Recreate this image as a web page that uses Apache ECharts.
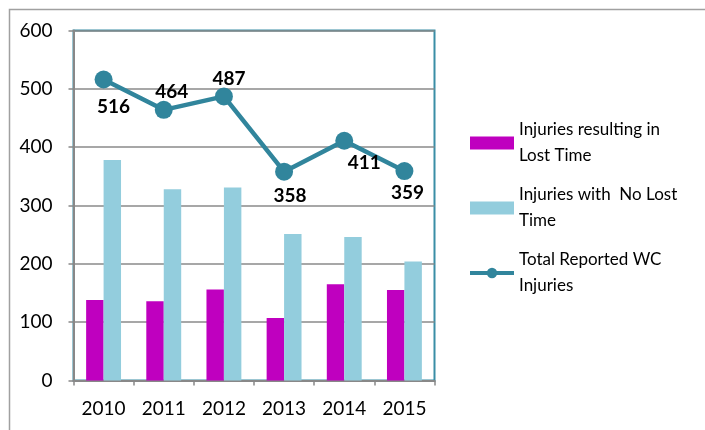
<!DOCTYPE html>
<html>
<head>
<meta charset="utf-8">
<script src="https://cdn.jsdelivr.net/npm/echarts@6/dist/echarts.min.js"></script>
<style>html,body{margin:0;padding:0;background:#fff}#c{width:705px;height:430px}</style>
</head>
<body>
<div id="c"></div>
<script>
const years = ['2010', '2011', '2012', '2013', '2014', '2015'];
const lostTime = [138, 136, 156, 107, 165, 155];
const noLostTime = [378, 328, 331, 251, 246, 204];
const totalReported = [516, 464, 487, 358, 411, 359];
const labelOffsets = [[10, 27], [8, -18], [5, -18], [6, 24], [20, 22], [3, 22]];
const seriesNames = ['Injuries resulting in Lost Time', 'Injuries with No Lost Time', 'Total Reported WC Injuries'];
const legendText = {
  'Injuries resulting in Lost Time': 'Injuries resulting in\nLost Time',
  'Injuries with No Lost Time': 'Injuries with  No Lost\nTime',
  'Total Reported WC Injuries': 'Total Reported WC\nInjuries'
};
const FONT = 'Lato';
const chart = echarts.init(document.getElementById('c'), null, {renderer: 'canvas'});
chart.setOption({
  animation: false,
  textStyle: {fontFamily: FONT},
  graphic: [{
    type: 'rect', left: 7, top: 7, shape: {x: 0, y: 0, width: 800, height: 500},
    style: {fill: 'none', stroke: '#a0a0a0', lineWidth: 1.5}, silent: true
  }],
  grid: {left: 73.5, right: 270.5, top: 30.5, bottom: 49.5, show: true, borderColor: '#3a8ea6', borderWidth: 2, backgroundColor: 'transparent'},
  legend: {
    orient: 'vertical', left: 468, top: 104, padding: 0, itemGap: -13,
    itemWidth: 44, itemHeight: 13,
    data: [
      {name: seriesNames[0], icon: 'rect'},
      {name: seriesNames[1], icon: 'rect'},
      {name: seriesNames[2], lineStyle: {width: 4}}
    ],
    formatter: n => legendText[n],
    textStyle: {fontFamily: FONT, fontSize: 17, color: '#000', lineHeight: 26, padding: [26, 0, 0, 0]}
  },
  xAxis: {
    type: 'category', data: years,
    axisLine: {lineStyle: {color: '#888', width: 2}},
    axisTick: {show: true, length: 5, lineStyle: {color: '#888', width: 1.5}},
    axisLabel: {fontFamily: FONT, fontSize: 19, color: '#000', margin: 19}
  },
  yAxis: {
    type: 'value', min: 0, max: 600, interval: 100,
    axisLine: {show: true, lineStyle: {color: '#888', width: 2}},
    axisTick: {show: true, length: 5, lineStyle: {color: '#888', width: 1.5}},
    axisLabel: {fontFamily: FONT, fontSize: 19, color: '#000', margin: 21},
    splitLine: {lineStyle: {color: '#8a8a8a', width: 1.5}}
  },
  series: [
    {name: seriesNames[0], type: 'bar', data: lostTime, barWidth: '29%', barGap: '0%',
     itemStyle: {color: '#BF00BF'}},
    {name: seriesNames[1], type: 'bar', data: noLostTime, barWidth: '29%', barGap: '0%',
     itemStyle: {color: '#93CDDD'}},
    {name: seriesNames[2], type: 'line', z: 5,
     data: totalReported.map((v, i) => ({value: v, label: {offset: labelOffsets[i]}})),
     symbol: 'circle', symbolSize: 18,
     lineStyle: {color: '#31859C', width: 4.5},
     itemStyle: {color: '#31859C'},
     label: {show: true, position: 'inside', fontFamily: FONT, fontSize: 19, fontWeight: 'bold', color: '#000'}
    }
  ]
});
</script>
</body>
</html>
